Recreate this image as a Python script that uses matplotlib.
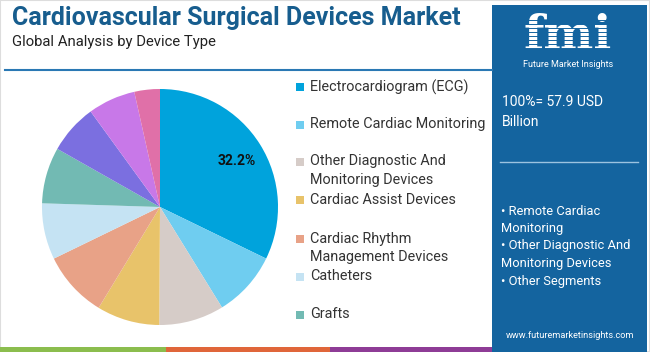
import matplotlib.pyplot as plt
from matplotlib.patches import Rectangle

plt.rcParams["font.family"] = ["Roboto", "DejaVu Sans"]

# data
segments = ["Electrocardiogram (ECG)", "Remote Cardiac Monitoring",
            "Other Diagnostic And\nMonitoring Devices", "Cardiac Assist Devices",
            "Cardiac Rhythm\nManagement Devices", "Catheters", "Grafts",
            "Valves", "Stents", "Others"]
shares = [32.2, 9.0, 8.9, 8.6, 9.1, 7.7, 7.7, 6.8, 6.5, 3.5]
colors = ["#00a3dc", "#6fcdf0", "#d6ccc8", "#e8c36a", "#e8a287",
          "#c5e3f3", "#72bab3", "#7b6fe0", "#c878e8", "#e070a8"]
legend_shown = 7
total_label = "100%= 57.9 USD\nBillion"
panel_bullets = ["• Remote Cardiac", "Monitoring", "• Other Diagnostic And",
                 "Monitoring Devices", "• Other Segments"]

W, H = 650, 352
PANEL = "#14649f"
fig = plt.figure(figsize=(W / 100, H / 100), dpi=100)
fig.patch.set_facecolor("white")

def fx(x):
    return x / W

def fy(y):
    return 1 - y / H

# frame
fig.add_artist(Rectangle((0, 0), 1, 1, transform=fig.transFigure,
                         fill=False, edgecolor="#dddddd", lw=1.5))

# title block
fig.text(fx(12), fy(18), "Cardiovascular Surgical Devices Market", fontsize=18,
         fontweight="bold", color="#175d8e", va="center", ha="left")
fig.text(fx(12), fy(42), "Global Analysis by Device Type", fontsize=10.7,
         color="#222222", va="center", ha="left")
fig.add_artist(plt.Line2D([fx(5), fx(492)], [fy(70), fy(70)], transform=fig.transFigure,
                          color="#2a78b4", lw=1.5))

# bottom strip
strip = [("#8bbd4e", 0, 166), ("#e0663a", 166, 330), ("#8e3c96", 330, 492)]
for c, x0, x1 in strip:
    fig.add_artist(Rectangle((fx(x0), 0), fx(x1 - x0), 5 / H, transform=fig.transFigure,
                             color=c, lw=0))

# right panel
fig.add_artist(Rectangle((fx(492), 0), fx(155), fy(5), transform=fig.transFigure,
                         color=PANEL, lw=0))
fig.text(fx(568), fy(49), "fmi", fontsize=34, fontweight="bold", family="DejaVu Serif",
         color="white", ha="center", va="baseline")
# stripes across the logo letters
for yy in range(20, 50, 4):
    fig.add_artist(plt.Line2D([fx(512), fx(624)], [fy(yy), fy(yy)],
                              transform=fig.transFigure, color=PANEL, lw=0.7, zorder=5))
fig.text(fx(568), fy(64.5), "Future Market Insights", fontsize=6.5, color="white",
         ha="center", va="center")
fig.text(fx(502), fy(112), total_label, fontsize=10, color="white", ha="left",
         va="center", linespacing=1.55)
fig.add_artist(plt.Line2D([fx(500), fx(638)], [fy(162), fy(162)], transform=fig.transFigure,
                          color="#9cc3e0", lw=1))
for i, t in enumerate(panel_bullets):
    fig.text(fx(501), fy(211 + i * 17.5), t, fontsize=9.3, color="white", ha="left",
             va="center")
fig.text(fx(570), fy(336), "www.futuremarketinsights.com", fontsize=6.6, color="white",
         ha="center", va="center")

# pie
ax = fig.add_axes([fx(42), fy(325), fx(236), 236 / H])
wedges, _ = ax.pie(shares, colors=colors, startangle=90, counterclock=False,
                   wedgeprops=dict(linewidth=0))
ax.set_xlim(-1, 1)
ax.set_ylim(-1, 1)
ax.set_aspect("equal")
ax.axis("off")
fig.text(fx(237), fy(161), f"{shares[0]}%", fontsize=10, fontweight="bold",
         color="#111111", ha="center", va="center")

# legend
leg_y = [87, 125, 162, 200, 239, 277, 315]
for i in range(legend_shown):
    y = leg_y[i]
    fig.add_artist(Rectangle((fx(296), fy(y + 4)), fx(8), 8 / H, transform=fig.transFigure,
                             color=colors[i], lw=0))
    fig.text(fx(310), fy(y - 7.5), segments[i], fontsize=10.4, color="#333333", ha="left",
             va="top", linespacing=1.45)

fig.savefig("out.png", dpi=100)
